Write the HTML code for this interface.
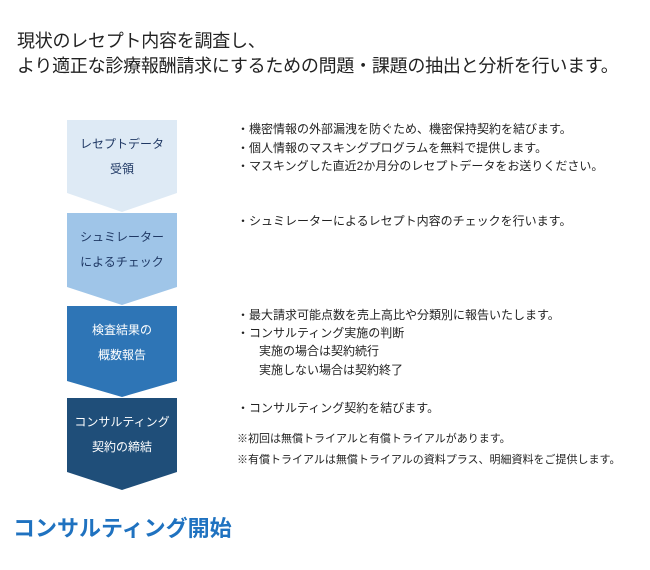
<!DOCTYPE html>
<html><head><meta charset="utf-8"><style>
body{margin:0;width:650px;height:570px;background:#fff;position:relative;font-family:"Liberation Sans","Noto Sans CJK JP",sans-serif;overflow:hidden}
.t{position:absolute;white-space:nowrap;color:#222}
.h{font-size:18px;left:17px;letter-spacing:-0.25px}
.r{font-size:12px;left:237px;color:#222}
.b{position:absolute;left:67px;width:110px;text-align:center;font-size:12px;line-height:25px}
</style></head><body>
<div class="t h" style="top:27px">現状のレセプト内容を調査し、</div>
<div class="t h" style="top:52px">より適正な診療報酬請求にするための問題・課題の抽出と分析を行います。</div>
<svg width="650" height="570" style="position:absolute;left:0;top:0">
<polygon points="67,120 177,120 177,193 122,212 67,193" fill="#deeaf5"/>
<polygon points="67,213 177,213 177,287 122,305 67,287" fill="#9fc5e8"/>
<polygon points="67,306 177,306 177,381 122,397 67,381" fill="#2e75b6"/>
<polygon points="67,398 177,398 177,472 122,490 67,472" fill="#1f4e79"/>
</svg>
<div class="b" style="top:132px;color:#1f3864">レセプトデータ<br>受領</div>
<div class="b" style="top:225px;color:#1f3864">シュミレーター<br>によるチェック</div>
<div class="b" style="top:318px;color:#fff">検査結果の<br>概数報告</div>
<div class="b" style="top:410px;color:#fff">コンサルティング<br>契約の締結</div>
<div class="t r" style="top:120px">・機密情報の外部漏洩を防ぐため、機密保持契約を結びます。</div>
<div class="t r" style="top:139px">・個人情報のマスキングプログラムを無料で提供します。</div>
<div class="t r" style="top:157px">・マスキングした直近2か月分のレセプトデータをお送りください。</div>
<div class="t r" style="top:212px">・シュミレーターによるレセプト内容のチェックを行います。</div>
<div class="t r" style="top:306px">・最大請求可能点数を売上高比や分類別に報告いたします。</div>
<div class="t r" style="top:324px">・コンサルティング実施の判断</div>
<div class="t r" style="top:342px;left:259px">実施の場合は契約続行</div>
<div class="t r" style="top:361px;left:259px">実施しない場合は契約終了</div>
<div class="t r" style="top:399px">・コンサルティング契約を結びます。</div>
<div class="t r" style="top:430px;font-size:11px">※初回は無償トライアルと有償トライアルがあります。</div>
<div class="t r" style="top:451px;font-size:11px">※有償トライアルは無償トライアルの資料プラス、明細資料をご提供します。</div>
<div class="t" style="top:511px;left:13px;font-size:22px;font-weight:bold;color:#1f72c0">コンサルティング開始</div>
</body></html>
